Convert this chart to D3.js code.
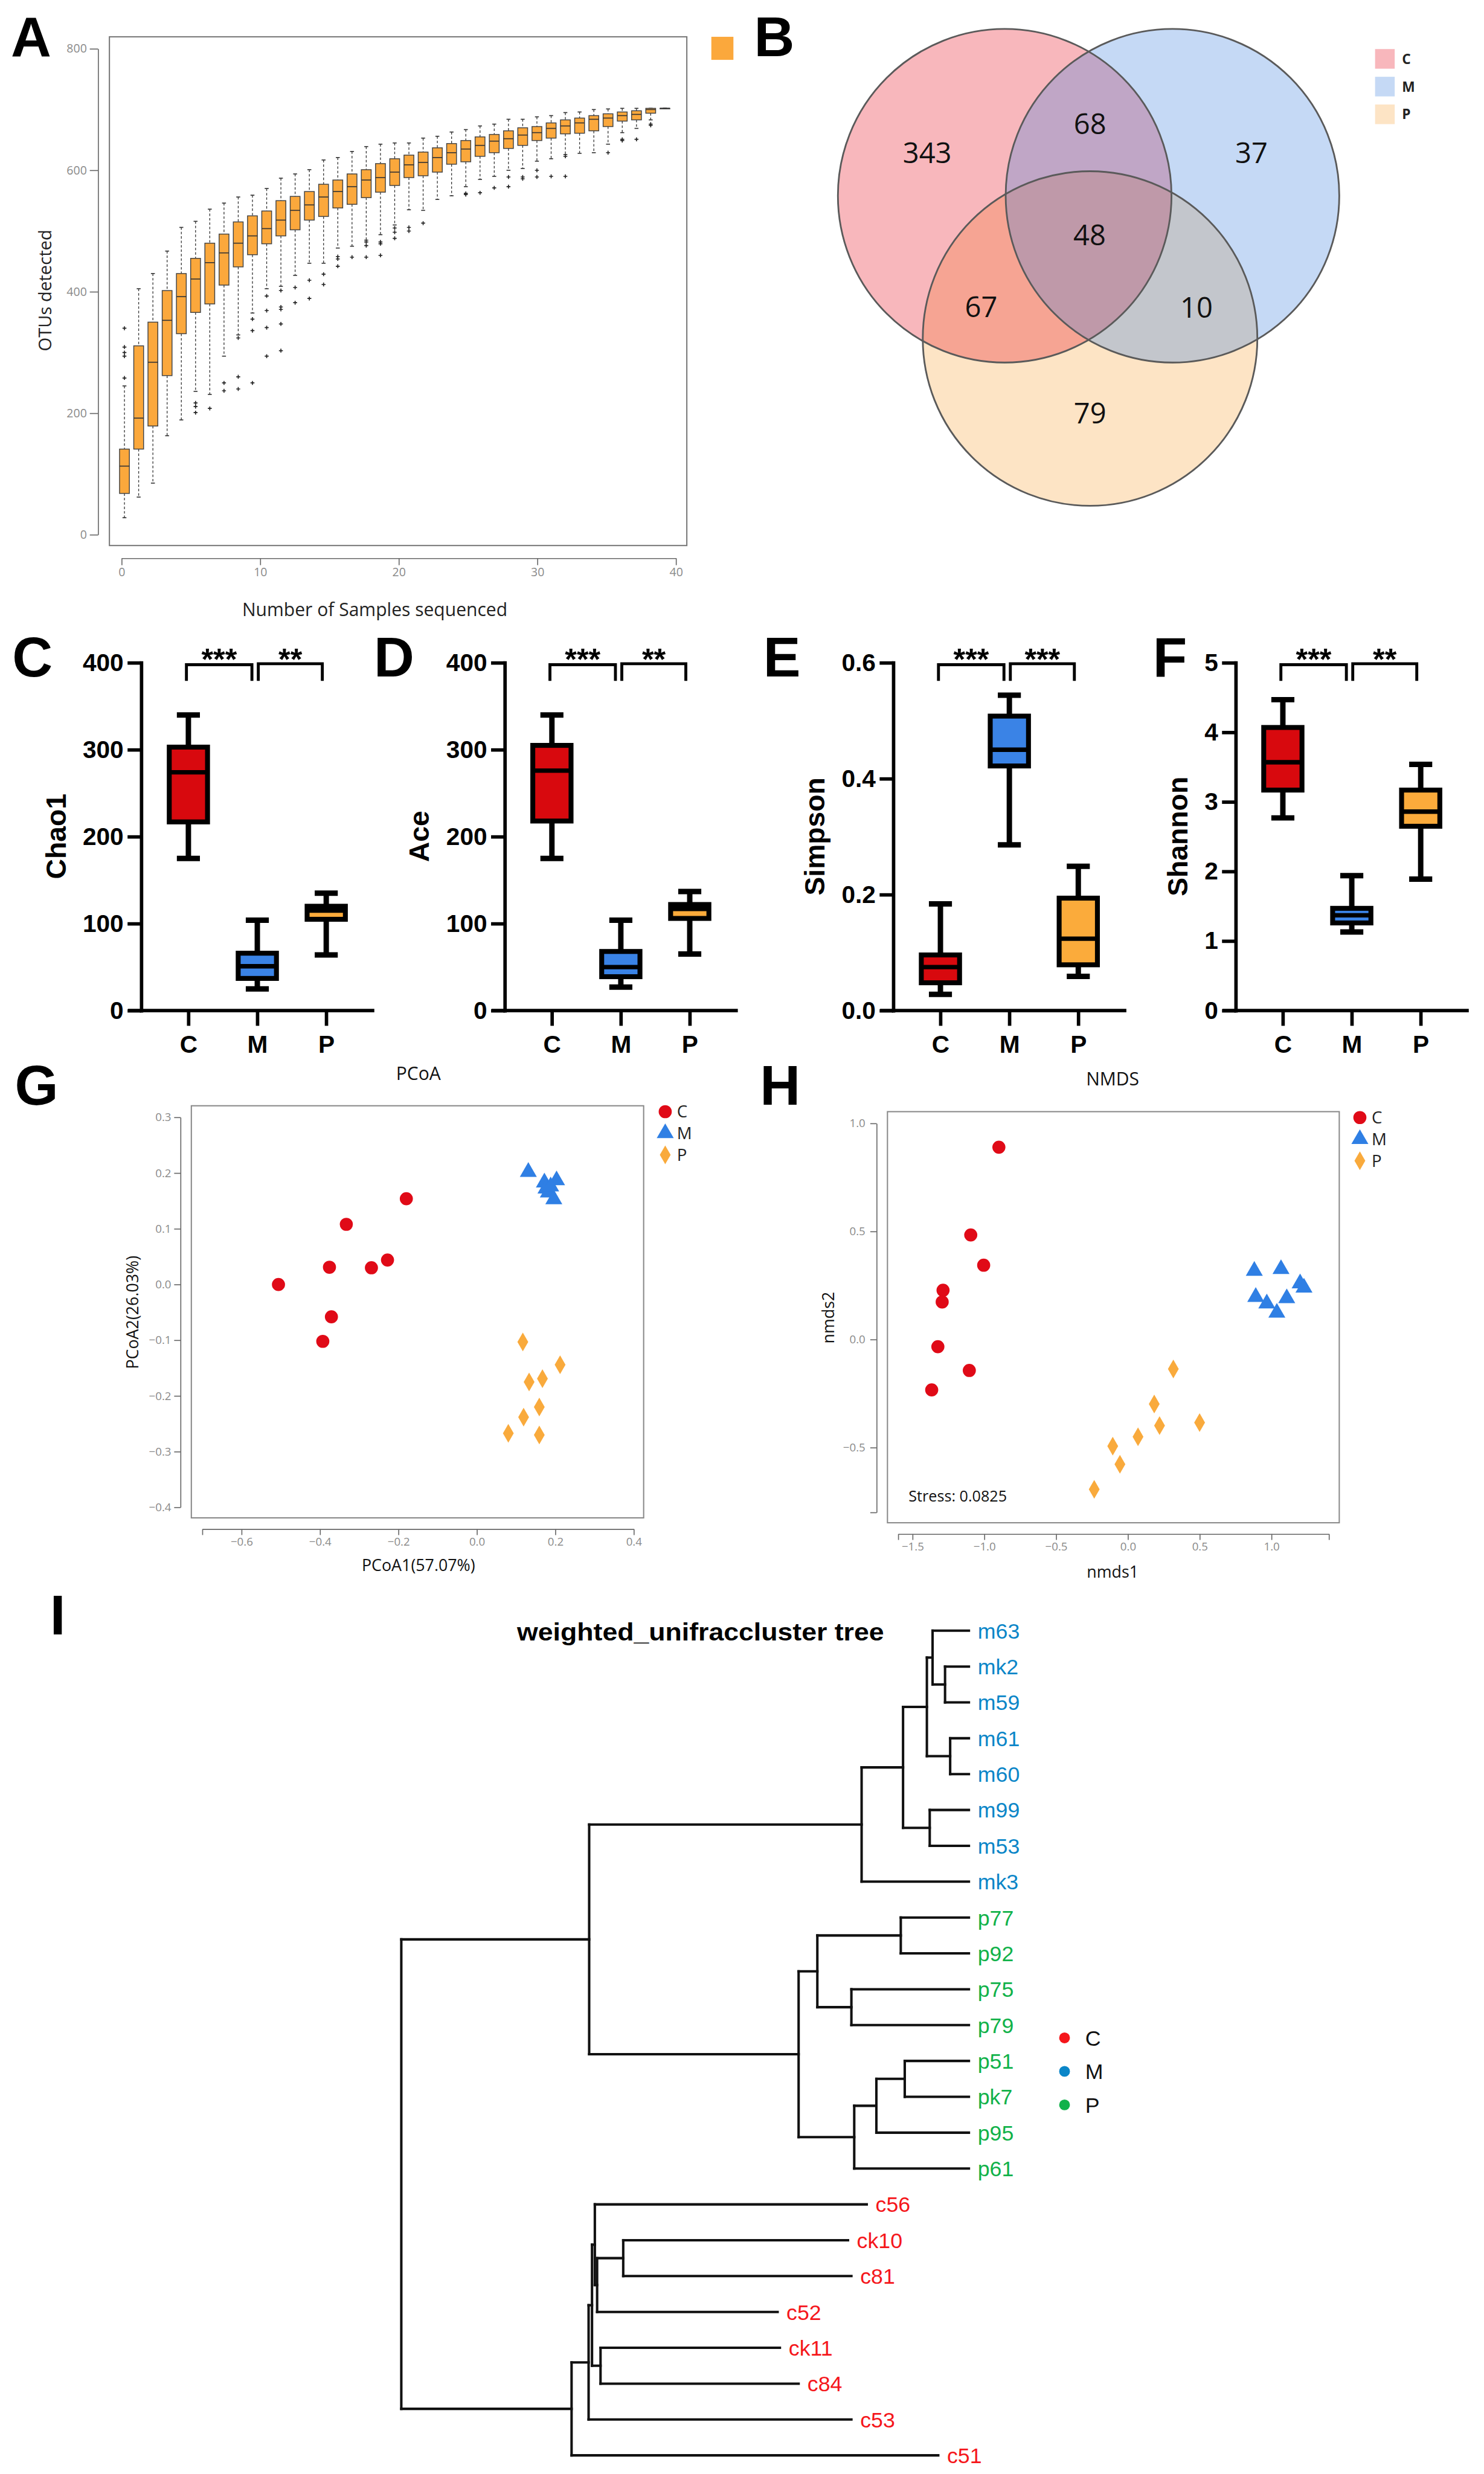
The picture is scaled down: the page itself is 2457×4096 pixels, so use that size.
<!DOCTYPE html>
<html>
<head>
<meta charset="utf-8">
<script src="https://cdn.jsdelivr.net/npm/d3@7"></script>
<style>
  html, body { margin: 0; padding: 0; background: #fff; }
  svg { display: block; }
</style>
</head>
<body>
<svg id="fig"></svg>
<script>
// ---------------- data ----------------

// A: OTU rarefaction, one box per number of samples
const rareLo  = [28,62,85,163,189,236,231,294,329,365,405,409,427,447,447,472,475,485,494,510,535,534,552,558,573,585,590,600,603,615,619,626,628,629,643,662,669,683,702];
const rareQ1  = [68,141,179,262,331,366,380,411,441,461,479,492,502,518,524,538,544,555,564,575,588,591,597,610,614,623,629,636,641,649,653,660,661,665,672,681,683,694,702];
const rareMed = [113,192,284,353,392,421,448,464,480,492,504,518,534,543,556,565,573,584,588,597,609,613,621,629,635,641,648,652,658,662,669,673,678,684,686,690,692,700,702];
const rareQ3  = [141,311,350,402,430,455,480,495,515,525,533,550,557,565,577,584,594,601,611,619,625,630,637,644,649,655,659,665,670,672,678,683,686,690,693,696,698,702,702];
const rareHi  = [245,405,430,467,506,516,536,546,556,559,570,587,594,601,617,621,631,639,643,645,645,653,656,663,667,673,676,684,684,688,690,695,696,700,701,702,702,702,702];
const rareOut = [[258,294,300,309,340],[],[],[],[],[201,211,217],[208],[237,250],[240,260,324],[250,336,355],
                 [294,341,369,393],[303,347,371,375,402],[382,407],[389,419],[412,429],[442,454,458],[457],[457,476,482],[460,479,482],[488,498,505],
                 [500,506],[513],[],[],[560,562],[563],[571],[573,589],[586,589],[589,600],
                 [590],[590,623],[],[],[629],[649,651],[651],[674,676],[]];
const rareTicksX = [0,10,20,30,40];
const rareTicksY = [0,200,400,600,800];

// B: Venn diagram
const vennSets    = ['C','M','P'];
const vennRegions = ['C','CM','M','CP','CMP','MP','P'];
const vennCounts  = [343,68,37,67,48,10,79];

// C-F: alpha diversity, [min, q1, median, q3, max] for C, M, P
const groups = ['C','M','P'];
const chao1Stats   = [[175,217,274,303,340],[25,37,51,66,104],[64,105,115,120,135]];
const aceStats     = [[175,218,276,305,340],[27,39,50,68,104],[65,106,117,122,137]];
const simpsonStats = [[0.028,0.048,0.075,0.096,0.184],[0.286,0.422,0.45,0.508,0.544],[0.059,0.079,0.124,0.194,0.249]];
const shannonStats = [[2.77,3.17,3.57,4.07,4.47],[1.13,1.26,1.37,1.47,1.94],[1.89,2.65,2.86,3.17,3.54]];
const chao1Sig   = ['***','**'];
const aceSig     = ['***','**'];
const simpsonSig = ['***','***'];
const shannonSig = ['***','**'];

// G: PCoA
const pcoaC = [[-0.506,0.0],[-0.333,0.108],[-0.180,0.154],[-0.376,0.031],[-0.269,0.030],[-0.228,0.044],[-0.371,-0.058],[-0.393,-0.102]];
const pcoaM = [[0.131,0.202],[0.172,0.183],[0.203,0.187],[0.176,0.172],[0.182,0.165],[0.196,0.153],[0.188,0.176]];
const pcoaP = [[0.117,-0.103],[0.212,-0.144],[0.133,-0.175],[0.167,-0.169],[0.159,-0.220],[0.119,-0.238],[0.080,-0.267],[0.159,-0.270]];

// H: NMDS
const nmdsC = [[-0.899,0.890],[-1.095,0.484],[-1.005,0.344],[-1.288,0.228],[-1.294,0.174],[-1.324,-0.033],[-1.105,-0.143],[-1.367,-0.233]];
const nmdsM = [[0.880,0.318],[1.066,0.326],[1.199,0.260],[1.226,0.240],[0.890,0.197],[0.967,0.167],[1.106,0.191],[1.037,0.124]];
const nmdsP = [[0.316,-0.136],[0.183,-0.298],[0.220,-0.398],[0.499,-0.384],[0.070,-0.450],[-0.106,-0.493],[-0.056,-0.577],[-0.235,-0.693]];
const nmdsStress = 0.0825;

// I: weighted UniFrac cluster tree
const treeLeaves = ['m63','mk2','m59','m61','m60','m99','m53','mk3','p77','p92','p75','p79','p51','pk7','p95','p61','c56','ck10','c81','c52','ck11','c84','c53','c51'];
const leafDepth  = [1,1,1,1,1,1,1,1,1,1,1,1,1,1,1,1,0.820,0.787,0.793,0.663,0.667,0.700,0.793,0.946];
// [node, childA, childB, depth]
const treeMerges = [
  ['M4','mk2','m59',0.958], ['M3','m63','M4',0.936], ['M5','m61','m60',0.967], ['M2','M3','M5',0.926],
  ['M6','m99','m53',0.931], ['M1','M2','M6',0.884], ['M','M1','mk3',0.811],
  ['P2','p77','p92',0.880], ['P3','p75','p79',0.793], ['P1','P2','P3',0.733],
  ['P6','p51','pk7',0.887], ['P5','P6','p95',0.837], ['P4','P5','p61',0.798], ['P','P1','P4',0.700],
  ['MP','M','P',0.331],
  ['C7','ck10','c81',0.391], ['C6','C7','c52',0.345], ['C3','c56','C6',0.341], ['C5','ck11','c84',0.351],
  ['C2','C3','C5',0.336], ['C1','C2','c53',0.330], ['C','C1','c51',0.300],
  ['root','MP','C',0]
];

// ---------------- layout ----------------
const W = 3025, H = 5043;
const sans = "'Liberation Sans', Arial, sans-serif";
const soft = "'Open Sans', 'Noto Sans', sans-serif";

const svg = d3.select('#fig')
  .attr('width', 2457).attr('height', 4096)
  .attr('viewBox', `0 0 ${W} ${H}`);
svg.append('rect').attr('width', W).attr('height', H).attr('fill', '#fff');

function styleAxis(g, o) {
  g.select('.domain').attr('stroke', o.stroke).attr('stroke-width', o.width);
  g.selectAll('.tick line').attr('stroke', o.stroke).attr('stroke-width', o.width);
  g.selectAll('.tick text').attr('fill', o.color)
    .style('font-family', o.font).style('font-size', o.size + 'px')
    .style('font-weight', o.weight || 'normal');
}

// panel letters
const letters = [['A',22,115],['B',1537,115],['C',25,1379],['D',762,1379],['E',1556,1379],['F',2350,1379],['G',30,2252],['H',1549,2252],['I',102,3332]];
svg.selectAll('text.letter').data(letters).join('text')
  .attr('class','letter')
  .attr('x', d => d[1]).attr('y', d => d[2])
  .style('font-family', sans).style('font-weight','bold').style('font-size','114px')
  .text(d => d[0]);

// ---------------- A ----------------
{
  const g = svg.append('g');
  const orange = '#fba83c';
  const x = d3.scaleLinear().domain([0,40]).range([248,1378]);
  const y = d3.scaleLinear().domain([0,800]).range([1090,99.5]);
  const pos = d3.scaleLinear().domain([0, rareMed.length-1]).range([x(0.2), x(39.2)]);

  g.append('rect').attr('x',223).attr('y',75).attr('width',1177).attr('height',1037)
    .attr('fill','none').attr('stroke','#777').attr('stroke-width',2.5);

  const ya = g.append('g').attr('transform','translate(200,0)')
    .call(d3.axisLeft(y).tickValues(rareTicksY).tickSize(17).tickSizeOuter(0).tickPadding(6));
  styleAxis(ya, {stroke:'#666', width:2, color:'#8a8a8a', font:soft, size:24});
  const xa = g.append('g').attr('transform','translate(0,1138)')
    .call(d3.axisBottom(x).tickValues(rareTicksX).tickSize(14).tickSizeOuter(0).tickPadding(6));
  styleAxis(xa, {stroke:'#666', width:2, color:'#8a8a8a', font:soft, size:24});

  g.append('text').attr('transform','translate(92,592) rotate(-90)').attr('text-anchor','middle').attr('dy','0.36em')
    .style('font-family',soft).style('font-size','36px').attr('fill','#222').text('OTUs detected');
  g.append('text').attr('x',764).attr('y',1242).attr('text-anchor','middle').attr('dy','0.36em')
    .style('font-family',soft).style('font-size','37px').attr('fill','#222').text('Number of Samples sequenced');

  const bw = 20;
  const boxes = g.selectAll('g.bx').data(rareMed.map((m,i) => i)).join('g').attr('class','bx');
  boxes.append('line').attr('x1', i => pos(i)).attr('x2', i => pos(i))
    .attr('y1', i => y(rareHi[i])).attr('y2', i => y(rareQ3[i]))
    .attr('stroke','#333').attr('stroke-width',1.6).attr('stroke-dasharray','5,4');
  boxes.append('line').attr('x1', i => pos(i)).attr('x2', i => pos(i))
    .attr('y1', i => y(rareQ1[i])).attr('y2', i => y(rareLo[i]))
    .attr('stroke','#333').attr('stroke-width',1.6).attr('stroke-dasharray','5,4');
  boxes.append('line').attr('x1', i => pos(i)-4).attr('x2', i => pos(i)+4)
    .attr('y1', i => y(rareHi[i])).attr('y2', i => y(rareHi[i])).attr('stroke','#333').attr('stroke-width',2);
  boxes.append('line').attr('x1', i => pos(i)-4).attr('x2', i => pos(i)+4)
    .attr('y1', i => y(rareLo[i])).attr('y2', i => y(rareLo[i])).attr('stroke','#333').attr('stroke-width',2);
  boxes.append('rect').attr('x', i => pos(i)-bw/2).attr('width', bw)
    .attr('y', i => y(rareQ3[i])).attr('height', i => Math.max(1, y(rareQ1[i]) - y(rareQ3[i])))
    .attr('fill', orange).attr('stroke','#444').attr('stroke-width',1.8);
  boxes.append('line').attr('x1', i => pos(i)-bw/2).attr('x2', i => pos(i)+bw/2)
    .attr('y1', i => y(rareMed[i])).attr('y2', i => y(rareMed[i])).attr('stroke','#333').attr('stroke-width',2);
  boxes.each(function(i) {
    d3.select(this).selectAll('path').data(rareOut[i]).join('path')
      .attr('d', v => `M${pos(i)-4},${y(v)}H${pos(i)+4}M${pos(i)},${y(v)-4}V${y(v)+4}`)
      .attr('stroke','#222').attr('stroke-width',2);
  });

  g.append('rect').attr('x',1450).attr('y',75).attr('width',45).attr('height',47).attr('fill',orange);
}

// ---------------- B ----------------
{
  const g = svg.append('g');
  const circ = {
    C: {cx:2048, cy:399, r:340, fill:'#e81220'},
    M: {cx:2390, cy:399, r:340, fill:'#3e80de'},
    P: {cx:2222, cy:690, r:341, fill:'#f8a53e'}
  };
  // where each region's count sits
  const regionPos = {C:[1890,311], CM:[2222,253], M:[2551,312], CP:[2000,626], CMP:[2221,479], MP:[2439,627], P:[2222,842]};
  const order = ['P','C','M'];
  g.selectAll('circle.fill').data(order).join('circle').attr('class','fill')
    .attr('cx', k => circ[k].cx).attr('cy', k => circ[k].cy).attr('r', k => circ[k].r)
    .attr('fill', k => circ[k].fill).attr('fill-opacity', 0.3);
  g.selectAll('circle.edge').data(order).join('circle').attr('class','edge')
    .attr('cx', k => circ[k].cx).attr('cy', k => circ[k].cy).attr('r', k => circ[k].r)
    .attr('fill','none').attr('stroke','#5a5a5a').attr('stroke-width',3.5);

  g.selectAll('text.cnt').data(vennRegions).join('text').attr('class','cnt')
    .attr('x', k => regionPos[k][0]).attr('y', k => regionPos[k][1])
    .attr('text-anchor','middle').attr('dy','0.36em')
    .style('font-family',soft).style('font-size','58px').attr('fill','#111')
    .text((k,i) => vennCounts[i]);

  const lg = g.selectAll('g.lg').data(vennSets).join('g').attr('class','lg')
    .attr('transform', (k,i) => `translate(2803,${100 + i*56.5})`);
  lg.append('rect').attr('width',40).attr('height',40).attr('fill', k => circ[k].fill).attr('fill-opacity',0.3);
  lg.append('text').attr('x',55).attr('y',20).attr('dy','0.36em')
    .style('font-family',soft).style('font-weight','bold').style('font-size','28px').attr('fill','#222')
    .text(k => k);
}

// ---------------- C-F ----------------
const groupFill = {C:'#d8090e', M:'#3a83e6', P:'#fbab3b'};
const boxPanels = [
  {ax:288,  title:'Chao1',   stats:chao1Stats,   sig:chao1Sig,   domain:[0,400], ticks:[0,100,200,300,400], fmt:d3.format('d')},
  {ax:1029, title:'Ace',     stats:aceStats,     sig:aceSig,     domain:[0,400], ticks:[0,100,200,300,400], fmt:d3.format('d')},
  {ax:1821, title:'Simpson', stats:simpsonStats, sig:simpsonSig, domain:[0,0.6], ticks:[0,0.2,0.4,0.6],     fmt:d3.format('.1f')},
  {ax:2519, title:'Shannon', stats:shannonStats, sig:shannonSig, domain:[0,5],   ticks:[0,1,2,3,4,5],       fmt:d3.format('d')}
];
boxPanels.forEach(p => {
  const g = svg.append('g');
  const y = d3.scaleLinear().domain(p.domain).range([2060,1351]);
  const x = d3.scalePoint().domain(groups).range([p.ax+96, p.ax+377]);
  const lw = 7;

  const ya = g.append('g').attr('transform',`translate(${p.ax},0)`)
    .call(d3.axisLeft(y).tickValues(p.ticks).tickFormat(p.fmt).tickSize(28).tickSizeOuter(0).tickPadding(8));
  styleAxis(ya, {stroke:'#000', width:lw, color:'#000', font:sans, size:50, weight:'bold'});
  ya.select('.domain').attr('stroke-linecap','square');

  const xa = g.append('g').attr('transform','translate(0,2060)')
    .call(d3.axisBottom(x).tickSize(31).tickSizeOuter(0).tickPadding(20));
  styleAxis(xa, {stroke:'#000', width:lw, color:'#000', font:sans, size:50, weight:'bold'});
  xa.select('.domain').remove();
  g.append('line').attr('x1', p.ax-27).attr('x2', p.ax+475).attr('y1',2060).attr('y2',2060)
    .attr('stroke','#000').attr('stroke-width',lw);

  const lblW = ya.node().getBBox().width;
  g.append('text').attr('transform',`translate(${p.ax - lblW - 55},1705) rotate(-90)`)
    .attr('text-anchor','middle').attr('dy','0.36em')
    .style('font-family',sans).style('font-weight','bold').style('font-size','57px')
    .text(p.title);

  const bw = 78, cw = 47;
  const bx = g.selectAll('g.bx').data(p.stats).join('g').attr('class','bx');
  const cx = (d,i) => x(groups[i]);
  bx.append('line').attr('x1',cx).attr('x2',cx).attr('y1', d => y(d[0])).attr('y2', d => y(d[4]))
    .attr('stroke','#000').attr('stroke-width',11);
  bx.append('line').attr('x1',(d,i) => cx(d,i)-cw/2).attr('x2',(d,i) => cx(d,i)+cw/2)
    .attr('y1', d => y(d[4])).attr('y2', d => y(d[4])).attr('stroke','#000').attr('stroke-width',11);
  bx.append('line').attr('x1',(d,i) => cx(d,i)-cw/2).attr('x2',(d,i) => cx(d,i)+cw/2)
    .attr('y1', d => y(d[0])).attr('y2', d => y(d[0])).attr('stroke','#000').attr('stroke-width',11);
  bx.append('rect').attr('x',(d,i) => cx(d,i)-bw/2).attr('width',bw)
    .attr('y', d => y(d[3])).attr('height', d => y(d[1]) - y(d[3]))
    .attr('fill',(d,i) => groupFill[groups[i]]).attr('stroke','#000').attr('stroke-width',10);
  bx.append('line').attr('x1',(d,i) => cx(d,i)-bw/2).attr('x2',(d,i) => cx(d,i)+bw/2)
    .attr('y1', d => y(d[2])).attr('y2', d => y(d[2])).attr('stroke','#000').attr('stroke-width',9);

  // significance brackets
  p.sig.forEach((s, k) => {
    const x1 = x(groups[k]) - 4 + 6*k, x2 = x(groups[k+1]) - 11 + 3*k;
    const top = 1355 - 2*k;
    g.append('path').attr('d',`M${x1},1388V${top}H${x2}V1388`)
      .attr('fill','none').attr('stroke','#000').attr('stroke-width',6);
    g.append('text').attr('x',(x1+x2)/2).attr('y',1366).attr('text-anchor','middle')
      .style('font-family',sans).style('font-weight','bold').style('font-size','62px').text(s);
  });
});

// ---------------- G / H ----------------
const ptColor = {C:'#e00a17', M:'#2f7fe4', P:'#f9aa3c'};
const markerPath = {
  C: d3.symbol(d3.symbolCircle, 560)(),
  M: d3.symbol(d3.symbolTriangle, 520)(),
  P: d3.symbol(d3.symbolDiamond, 420)()
};
const scatterPanels = [
  {title:'PCoA', tx:853, ty:2188, frame:[390,2254,922,840], yAxisX:368, xAxisY:3117,
   xDom:[-0.7,0.4], xRange:[412.5,1292], xTicks:[-0.7,-0.6,-0.4,-0.2,0,0.2,0.4], xBlank:[-0.7],
   yDom:[-0.4,0.3], yRange:[3072.6,2277.6], yTicks:[-0.4,-0.3,-0.2,-0.1,0,0.1,0.2,0.3], yBlank:[],
   xTitle:'PCoA1(57.07%)', xtx:853, xty:3191, yTitle:'PCoA2(26.03%)', ytx:270, yty:2675, ytPad:6,
   legX:1356, legY:2266, series:{C:pcoaC, M:pcoaM, P:pcoaP}},
  {title:'NMDS', tx:2268, ty:2199, frame:[1809,2266,921,838], yAxisX:1787, xAxisY:3127,
   xDom:[-1.6,1.4], xRange:[1831,2709], xTicks:[-1.6,-1.5,-1,-0.5,0,0.5,1,1.4], xBlank:[-1.6,1.4],
   yDom:[-0.8,1.0], yRange:[3083,2290], yTicks:[-0.8,-0.5,0,0.5,1], yBlank:[-0.8],
   xTitle:'nmds1', xtx:2268, xty:3204, yTitle:'nmds2', ytx:1688, yty:2686, ytPad:10,
   legX:2772, legY:2278, series:{C:nmdsC, M:nmdsM, P:nmdsP}, stress:true}
];
scatterPanels.forEach(p => {
  const g = svg.append('g');
  const x = d3.scaleLinear().domain(p.xDom).range(p.xRange);
  const y = d3.scaleLinear().domain(p.yDom).range(p.yRange);
  const fmt = d3.format('.1f');

  g.append('text').attr('x',p.tx).attr('y',p.ty).attr('text-anchor','middle').attr('dy','0.36em')
    .style('font-family',soft).style('font-size','37px').attr('fill','#111').text(p.title);
  g.append('rect').attr('x',p.frame[0]).attr('y',p.frame[1]).attr('width',p.frame[2]).attr('height',p.frame[3])
    .attr('fill','none').attr('stroke','#888').attr('stroke-width',2.5);

  const ya = g.append('g').attr('transform',`translate(${p.yAxisX},0)`)
    .call(d3.axisLeft(y).tickValues(p.yTicks).tickSize(13).tickSizeOuter(0).tickPadding(p.ytPad)
      .tickFormat(v => p.yBlank.some(b => Math.abs(b-v) < 1e-9) ? '' : fmt(v)));
  styleAxis(ya, {stroke:'#666', width:2, color:'#8a8a8a', font:soft, size:23});
  const xa = g.append('g').attr('transform',`translate(0,${p.xAxisY})`)
    .call(d3.axisBottom(x).tickValues(p.xTicks).tickSize(12).tickSizeOuter(0).tickPadding(5)
      .tickFormat(v => p.xBlank.some(b => Math.abs(b-v) < 1e-9) ? '' : fmt(v)));
  styleAxis(xa, {stroke:'#666', width:2, color:'#8a8a8a', font:soft, size:23});

  g.append('text').attr('x',p.xtx).attr('y',p.xty).attr('text-anchor','middle').attr('dy','0.36em')
    .style('font-family',soft).style('font-size','33px').attr('fill','#111').text(p.xTitle);
  g.append('text').attr('transform',`translate(${p.ytx},${p.yty}) rotate(-90)`).attr('text-anchor','middle').attr('dy','0.36em')
    .style('font-family',soft).style('font-size','33px').attr('fill','#111').text(p.yTitle);

  groups.forEach(k => {
    g.selectAll(`path.pt${k}`).data(p.series[k]).join('path').attr('class',`pt${k}`)
      .attr('d', markerPath[k]).attr('transform', d => `translate(${x(d[0])},${y(d[1])})`)
      .attr('fill', ptColor[k]);
  });

  if (p.stress) {
    g.append('text').attr('x',1852).attr('y',3049).attr('dy','0.36em')
      .style('font-family',soft).style('font-size','31px').attr('fill','#111')
      .text('Stress: ' + nmdsStress);
  }

  const lg = g.selectAll('g.lg').data(groups).join('g').attr('class','lg')
    .attr('transform', (k,i) => `translate(${p.legX},${p.legY + i*44})`);
  lg.append('path').attr('d', k => markerPath[k]).attr('fill', k => ptColor[k]);
  lg.append('text').attr('x',24).attr('dy','0.36em')
    .style('font-family',soft).style('font-size','34px').attr('fill','#222').text(k => k);
});

// ---------------- I ----------------
{
  const g = svg.append('g');
  const x = d3.scaleLinear().domain([0,1]).range([818,1975]);
  const y = d3.scalePoint().domain(treeLeaves).range([3324,5005]);
  const leafColor = {m:'#0b86c8', p:'#11b24a', c:'#f5161b'};

  const depth = {}, ypos = {};
  treeLeaves.forEach((l,i) => { depth[l] = leafDepth[i]; ypos[l] = y(l); });
  treeMerges.forEach(([n,a,b,d]) => { depth[n] = d; ypos[n] = (ypos[a] + ypos[b]) / 2; });

  g.append('text').attr('x',1054).attr('y',3344)
    .attr('textLength',748).attr('lengthAdjust','spacingAndGlyphs')
    .style('font-family',sans).style('font-weight','bold').style('font-size','50px')
    .text('weighted_unifraccluster tree');

  const segs = [];
  treeMerges.forEach(([n,a,b,d]) => {
    segs.push([x(d), ypos[a], x(d), ypos[b]]);
    segs.push([x(d), ypos[a], x(depth[a]), ypos[a]]);
    segs.push([x(d), ypos[b], x(depth[b]), ypos[b]]);
  });
  g.selectAll('line.br').data(segs).join('line').attr('class','br')
    .attr('x1', s => s[0]).attr('y1', s => s[1]).attr('x2', s => s[2]).attr('y2', s => s[3])
    .attr('stroke','#111').attr('stroke-width',5).attr('stroke-linecap','square');

  g.selectAll('text.leaf').data(treeLeaves).join('text').attr('class','leaf')
    .attr('x', l => x(depth[l]) + 18).attr('y', l => ypos[l]).attr('dy','0.36em')
    .style('font-family',sans).style('font-size','44px')
    .attr('fill', l => leafColor[l[0]]).text(l => l);

  const legColor = {C:leafColor.c, M:leafColor.m, P:leafColor.p};
  const lg = g.selectAll('g.lg').data(groups).join('g').attr('class','lg')
    .attr('transform', (k,i) => `translate(2170,${4154 + i*68.3})`);
  lg.append('circle').attr('r',11).attr('fill', k => legColor[k]);
  lg.append('text').attr('x',42).attr('dy','0.36em')
    .style('font-family',sans).style('font-size','44px').attr('fill','#111').text(k => k);
}
</script>
</body>
</html>
